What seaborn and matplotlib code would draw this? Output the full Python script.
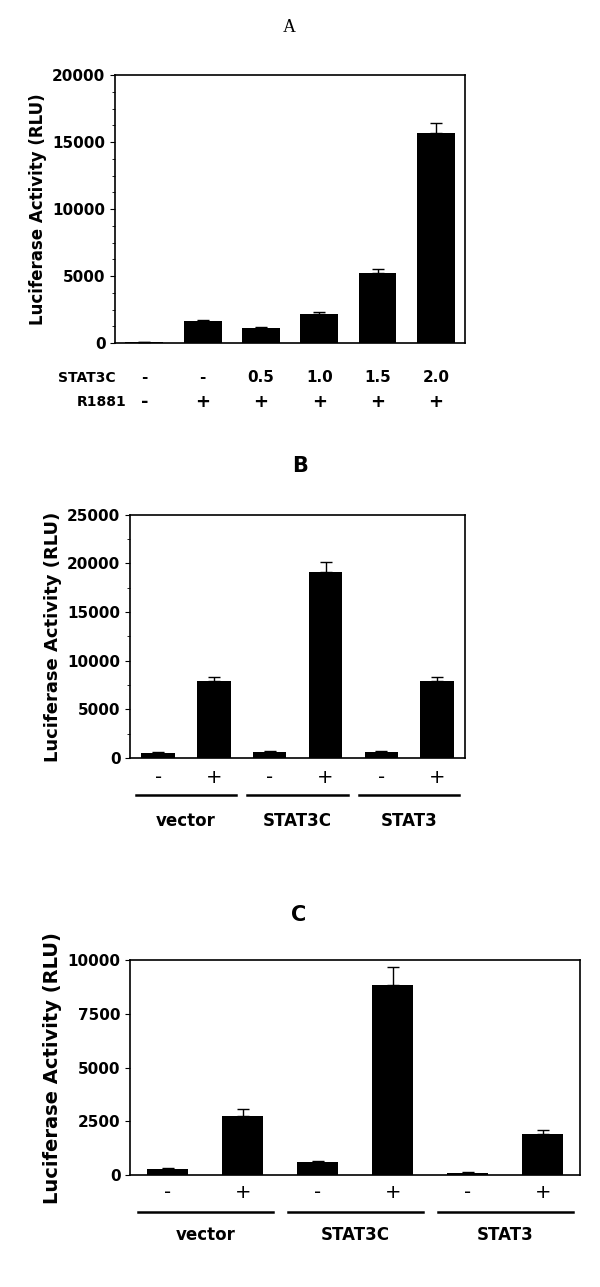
import matplotlib
matplotlib.use("Agg")
import matplotlib.pyplot as plt
import seaborn as sns
import numpy as np
import pandas as pd
from matplotlib.ticker import MultipleLocator

a_vals = [80, 1650, 1150, 2200, 5200, 15700]
a_err = [20, 100, 80, 100, 350, 700]
a_stat = ["-", "-", "0.5", "1.0", "1.5", "2.0"]
a_r = ["-", "+", "+", "+", "+", "+"]

b_vals = [550, 7900, 650, 19100, 650, 7900]
b_err = [100, 400, 50, 1000, 50, 400]
c_vals = [300, 2750, 600, 8850, 100, 1900]
c_err = [20, 300, 50, 850, 30, 200]
signs = ["-", "+", "-", "+", "-", "+"]
groups = ["vector", "STAT3C", "STAT3"]

fig = plt.figure(figsize=(6, 12.87), dpi=100)
ylab = "Luciferase Activity (RLU)"
bold = dict(fontweight="bold", family="DejaVu Sans")

def panel(rect, vals, errs, ymax, step, minor, width):
    ax = fig.add_axes(rect)
    df = pd.DataFrame({"x": list(range(len(vals))), "y": vals})
    sns.barplot(data=df, x="x", y="y", color="black", saturation=1, width=width, ax=ax, errorbar=None)
    ax.errorbar(range(len(vals)), vals, yerr=[np.zeros(len(vals)), errs], fmt="none",
                ecolor="black", capsize=4, lw=1)
    ax.set_ylim(0, ymax)
    ax.set_xlim(-0.5, len(vals) - 0.5)
    ax.yaxis.set_major_locator(MultipleLocator(step))
    if minor:
        ax.yaxis.set_minor_locator(MultipleLocator(minor))
    ax.set_xlabel("")
    ax.set_xticks([])
    for s in ax.spines.values():
        s.set_linewidth(1.2)
    ax.tick_params(axis="y", labelsize=11, direction="out")
    for t in ax.get_yticklabels():
        t.set_fontweight("bold")
    return ax

fig.text(0.483, 0.975, "A", ha="center", fontsize=13, family="Liberation Serif")
axA = panel([0.192, 0.7335, 0.583, 0.208], a_vals, a_err, 20000, 5000, 1250, 0.65)
axA.set_ylabel(ylab, fontsize=12, **bold)
trA = axA.get_xaxis_transform()
axA.text(-0.5, -0.13, "STAT3C", transform=trA, ha="right", va="center", fontsize=10, **bold)
axA.text(-0.3, -0.22, "R1881", transform=trA, ha="right", va="center", fontsize=10, **bold)
for i in range(6):
    axA.text(i, -0.13, a_stat[i], transform=trA, ha="center", va="center", fontsize=11, **bold)
    axA.text(i, -0.22, a_r[i], transform=trA, ha="center", va="center", fontsize=13, **bold)

fig.text(0.5, 0.633, "B", ha="center", fontsize=15, **bold)
axB = panel([0.217, 0.411, 0.558, 0.189], b_vals, b_err, 25000, 5000, 2500, 0.6)
axB.set_ylabel(ylab, fontsize=13, **bold)

fig.text(0.497, 0.2845, "C", ha="center", fontsize=15, **bold)
axC = panel([0.217, 0.087, 0.75, 0.167], c_vals, c_err, 10000, 2500, None, 0.55)
axC.set_ylabel(ylab, fontsize=14, **bold)

for ax, lab_y, line_y, g_y in [(axB, -0.08, -0.15, -0.26), (axC, -0.08, -0.17, -0.28)]:
    tr = ax.get_xaxis_transform()
    for i in range(6):
        ax.text(i, lab_y, signs[i], transform=tr, ha="center", va="center", fontsize=14)
    for k, g in enumerate(groups):
        ax.plot([2 * k - 0.4, 2 * k + 1.4], [line_y, line_y], transform=tr, color="black", lw=1.8, clip_on=False)
        ax.text(2 * k + 0.5, g_y, g, transform=tr, ha="center", va="center", fontsize=12, **bold)

fig.savefig("out.png", dpi=100)
